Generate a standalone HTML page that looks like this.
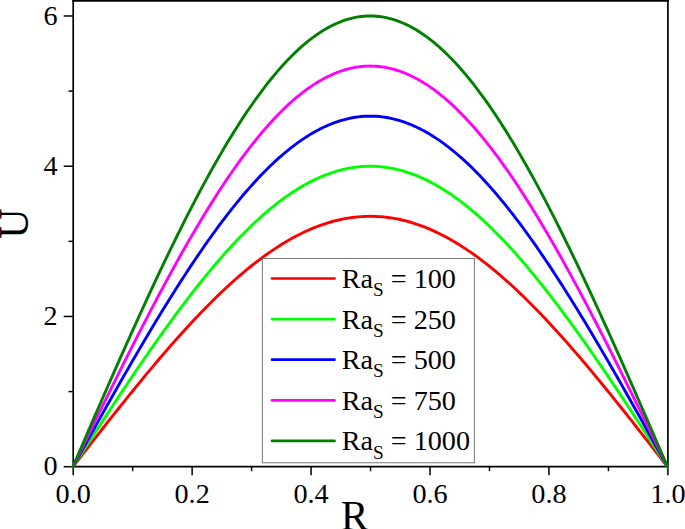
<!DOCTYPE html>
<html><head><meta charset="utf-8"><style>
html,body{margin:0;padding:0;background:#fff;width:685px;height:529px;overflow:hidden}
svg{display:block}
text{font-family:"Liberation Serif",serif}
</style></head><body>
<svg width="685" height="529" viewBox="0 0 685 529" font-family="Liberation Serif, serif" font-size="28.2" fill="#000">
<rect width="685" height="529" fill="#fff"/>
<line x1="73.2" y1="0" x2="73.2" y2="466.7" stroke="#000" stroke-width="1.7"/><line x1="667.9" y1="0" x2="667.9" y2="466.7" stroke="#000" stroke-width="1.7"/><line x1="73.2" y1="466.7" x2="667.9" y2="466.7" stroke="#000" stroke-width="1.7"/><line x1="72.35000000000001" y1="0.85" x2="668.75" y2="0.85" stroke="#000" stroke-width="1.7"/><line x1="73.20" y1="466.7" x2="73.20" y2="475.2" stroke="#000" stroke-width="1.5"/><line x1="132.67" y1="466.7" x2="132.67" y2="471.2" stroke="#000" stroke-width="1.5"/><line x1="192.14" y1="466.7" x2="192.14" y2="475.2" stroke="#000" stroke-width="1.5"/><line x1="251.61" y1="466.7" x2="251.61" y2="471.2" stroke="#000" stroke-width="1.5"/><line x1="311.08" y1="466.7" x2="311.08" y2="475.2" stroke="#000" stroke-width="1.5"/><line x1="370.55" y1="466.7" x2="370.55" y2="471.2" stroke="#000" stroke-width="1.5"/><line x1="430.02" y1="466.7" x2="430.02" y2="475.2" stroke="#000" stroke-width="1.5"/><line x1="489.49" y1="466.7" x2="489.49" y2="471.2" stroke="#000" stroke-width="1.5"/><line x1="548.96" y1="466.7" x2="548.96" y2="475.2" stroke="#000" stroke-width="1.5"/><line x1="608.43" y1="466.7" x2="608.43" y2="471.2" stroke="#000" stroke-width="1.5"/><line x1="667.90" y1="466.7" x2="667.90" y2="475.2" stroke="#000" stroke-width="1.5"/><line x1="73.2" y1="466.70" x2="63.7" y2="466.70" stroke="#000" stroke-width="1.5"/><line x1="73.2" y1="391.58" x2="68.5" y2="391.58" stroke="#000" stroke-width="1.5"/><line x1="73.2" y1="316.46" x2="63.7" y2="316.46" stroke="#000" stroke-width="1.5"/><line x1="73.2" y1="241.34" x2="68.5" y2="241.34" stroke="#000" stroke-width="1.5"/><line x1="73.2" y1="166.22" x2="63.7" y2="166.22" stroke="#000" stroke-width="1.5"/><line x1="73.2" y1="91.10" x2="68.5" y2="91.10" stroke="#000" stroke-width="1.5"/><line x1="73.2" y1="15.98" x2="63.7" y2="15.98" stroke="#000" stroke-width="1.5"/>
<polyline points="73.00,466.70 75.97,462.85 78.94,459.01 81.92,455.17 84.89,451.34 87.86,447.52 90.83,443.70 93.80,439.89 96.78,436.09 99.75,432.30 102.72,428.51 105.69,424.74 108.66,420.97 111.64,417.21 114.61,413.47 117.58,409.74 120.55,406.01 123.52,402.30 126.50,398.61 129.47,394.93 132.44,391.26 135.41,387.61 138.38,383.97 141.36,380.35 144.33,376.75 147.30,373.17 150.27,369.60 153.24,366.06 156.22,362.54 159.19,359.04 162.16,355.56 165.13,352.11 168.10,348.68 171.08,345.27 174.05,341.89 177.02,338.54 179.99,335.21 182.96,331.92 185.94,328.65 188.91,325.41 191.88,322.21 194.85,319.04 197.82,315.90 200.80,312.79 203.77,309.72 206.74,306.68 209.71,303.68 212.68,300.72 215.66,297.80 218.63,294.91 221.60,292.07 224.57,289.27 227.54,286.50 230.52,283.78 233.49,281.11 236.46,278.48 239.43,275.89 242.40,273.35 245.38,270.85 248.35,268.40 251.32,266.00 254.29,263.65 257.26,261.35 260.24,259.10 263.21,256.90 266.18,254.75 269.15,252.65 272.12,250.61 275.10,248.62 278.07,246.69 281.04,244.80 284.01,242.98 286.98,241.21 289.96,239.50 292.93,237.84 295.90,236.25 298.87,234.71 301.84,233.23 304.82,231.81 307.79,230.45 310.76,229.15 313.73,227.91 316.70,226.73 319.68,225.61 322.65,224.55 325.62,223.56 328.59,222.63 331.56,221.76 334.54,220.96 337.51,220.22 340.48,219.54 343.45,218.92 346.42,218.37 349.40,217.89 352.37,217.47 355.34,217.11 358.31,216.82 361.28,216.59 364.26,216.43 367.23,216.33 370.20,216.30 373.17,216.33 376.14,216.43 379.12,216.59 382.09,216.82 385.06,217.11 388.03,217.47 391.00,217.89 393.98,218.37 396.95,218.92 399.92,219.54 402.89,220.22 405.86,220.96 408.84,221.76 411.81,222.63 414.78,223.56 417.75,224.55 420.72,225.61 423.70,226.73 426.67,227.91 429.64,229.15 432.61,230.45 435.58,231.81 438.56,233.23 441.53,234.71 444.50,236.25 447.47,237.84 450.44,239.50 453.42,241.21 456.39,242.98 459.36,244.80 462.33,246.69 465.30,248.62 468.28,250.61 471.25,252.65 474.22,254.75 477.19,256.90 480.16,259.10 483.14,261.35 486.11,263.65 489.08,266.00 492.05,268.40 495.02,270.85 498.00,273.35 500.97,275.89 503.94,278.48 506.91,281.11 509.88,283.78 512.86,286.50 515.83,289.27 518.80,292.07 521.77,294.91 524.74,297.80 527.72,300.72 530.69,303.68 533.66,306.68 536.63,309.72 539.60,312.79 542.58,315.90 545.55,319.04 548.52,322.21 551.49,325.41 554.46,328.65 557.44,331.92 560.41,335.21 563.38,338.54 566.35,341.89 569.32,345.27 572.30,348.68 575.27,352.11 578.24,355.56 581.21,359.04 584.18,362.54 587.16,366.06 590.13,369.60 593.10,373.17 596.07,376.75 599.04,380.35 602.02,383.97 604.99,387.61 607.96,391.26 610.93,394.93 613.90,398.61 616.88,402.30 619.85,406.01 622.82,409.74 625.79,413.47 628.76,417.21 631.74,420.97 634.71,424.74 637.68,428.51 640.65,432.30 643.62,436.09 646.60,439.89 649.57,443.70 652.54,447.52 655.51,451.34 658.48,455.17 661.46,459.01 664.43,462.85 667.40,466.70" fill="none" stroke="#ff0000" stroke-width="2.9" stroke-linejoin="round" stroke-linecap="round"/><polyline points="73.00,466.70 75.97,462.08 78.94,457.47 81.92,452.87 84.89,448.27 87.86,443.68 90.83,439.10 93.80,434.53 96.78,429.97 99.75,425.42 102.72,420.88 105.69,416.34 108.66,411.83 111.64,407.32 114.61,402.82 117.58,398.34 120.55,393.88 123.52,389.42 126.50,384.99 129.47,380.57 132.44,376.17 135.41,371.79 138.38,367.42 141.36,363.08 144.33,358.76 147.30,354.46 150.27,350.19 153.24,345.93 156.22,341.71 159.19,337.51 162.16,333.33 165.13,329.19 168.10,325.07 171.08,320.98 174.05,316.93 177.02,312.91 179.99,308.92 182.96,304.96 185.94,301.04 188.91,297.16 191.88,293.31 194.85,289.50 197.82,285.74 200.80,282.01 203.77,278.32 206.74,274.68 209.71,271.08 212.68,267.53 215.66,264.02 218.63,260.56 221.60,257.14 224.57,253.78 227.54,250.47 230.52,247.20 233.49,243.99 236.46,240.83 239.43,237.73 242.40,234.68 245.38,231.68 248.35,228.74 251.32,225.86 254.29,223.04 257.26,220.28 260.24,217.58 263.21,214.94 266.18,212.36 269.15,209.84 272.12,207.39 275.10,205.00 278.07,202.68 281.04,200.43 284.01,198.24 286.98,196.11 289.96,194.06 292.93,192.07 295.90,190.16 298.87,188.31 301.84,186.53 304.82,184.83 307.79,183.20 310.76,181.64 313.73,180.15 316.70,178.73 319.68,177.39 322.65,176.13 325.62,174.93 328.59,173.82 331.56,172.78 334.54,171.81 337.51,170.92 340.48,170.11 343.45,169.37 346.42,168.71 349.40,168.13 352.37,167.62 355.34,167.19 358.31,166.84 361.28,166.57 364.26,166.38 367.23,166.26 370.20,166.22 373.17,166.26 376.14,166.38 379.12,166.57 382.09,166.84 385.06,167.19 388.03,167.62 391.00,168.13 393.98,168.71 396.95,169.37 399.92,170.11 402.89,170.92 405.86,171.81 408.84,172.78 411.81,173.82 414.78,174.93 417.75,176.13 420.72,177.39 423.70,178.73 426.67,180.15 429.64,181.64 432.61,183.20 435.58,184.83 438.56,186.53 441.53,188.31 444.50,190.16 447.47,192.07 450.44,194.06 453.42,196.11 456.39,198.24 459.36,200.43 462.33,202.68 465.30,205.00 468.28,207.39 471.25,209.84 474.22,212.36 477.19,214.94 480.16,217.58 483.14,220.28 486.11,223.04 489.08,225.86 492.05,228.74 495.02,231.68 498.00,234.68 500.97,237.73 503.94,240.83 506.91,243.99 509.88,247.20 512.86,250.47 515.83,253.78 518.80,257.14 521.77,260.56 524.74,264.02 527.72,267.53 530.69,271.08 533.66,274.68 536.63,278.32 539.60,282.01 542.58,285.74 545.55,289.50 548.52,293.31 551.49,297.16 554.46,301.04 557.44,304.96 560.41,308.92 563.38,312.91 566.35,316.93 569.32,320.98 572.30,325.07 575.27,329.19 578.24,333.33 581.21,337.51 584.18,341.71 587.16,345.93 590.13,350.19 593.10,354.46 596.07,358.76 599.04,363.08 602.02,367.42 604.99,371.79 607.96,376.17 610.93,380.57 613.90,384.99 616.88,389.42 619.85,393.88 622.82,398.34 625.79,402.82 628.76,407.32 631.74,411.83 634.71,416.34 637.68,420.88 640.65,425.42 643.62,429.97 646.60,434.53 649.57,439.10 652.54,443.68 655.51,448.27 658.48,452.87 661.46,457.47 664.43,462.08 667.40,466.70" fill="none" stroke="#00ff00" stroke-width="2.9" stroke-linejoin="round" stroke-linecap="round"/><polyline points="73.00,466.70 75.97,461.31 78.94,455.93 81.92,450.56 84.89,445.20 87.86,439.85 90.83,434.50 93.80,429.17 96.78,423.85 99.75,418.54 102.72,413.24 105.69,407.95 108.66,402.68 111.64,397.42 114.61,392.18 117.58,386.95 120.55,381.74 123.52,376.55 126.50,371.37 129.47,366.22 132.44,361.08 135.41,355.97 138.38,350.88 141.36,345.81 144.33,340.77 147.30,335.76 150.27,330.77 153.24,325.81 156.22,320.87 159.19,315.97 162.16,311.10 165.13,306.27 168.10,301.47 171.08,296.70 174.05,291.97 177.02,287.27 179.99,282.62 182.96,278.00 185.94,273.43 188.91,268.90 191.88,264.41 194.85,259.97 197.82,255.58 200.80,251.23 203.77,246.93 206.74,242.68 209.71,238.48 212.68,234.33 215.66,230.24 218.63,226.20 221.60,222.22 224.57,218.29 227.54,214.43 230.52,210.62 233.49,206.87 236.46,203.19 239.43,199.56 242.40,196.01 245.38,192.51 248.35,189.09 251.32,185.73 254.29,182.43 257.26,179.21 260.24,176.06 263.21,172.98 266.18,169.97 269.15,167.04 272.12,164.17 275.10,161.39 278.07,158.68 281.04,156.05 284.01,153.49 286.98,151.02 289.96,148.62 292.93,146.30 295.90,144.07 298.87,141.91 301.84,139.84 304.82,137.85 307.79,135.95 310.76,134.12 313.73,132.39 316.70,130.74 319.68,129.17 322.65,127.70 325.62,126.31 328.59,125.00 331.56,123.79 334.54,122.66 337.51,121.62 340.48,120.67 343.45,119.81 346.42,119.04 349.40,118.36 352.37,117.78 355.34,117.28 358.31,116.87 361.28,116.55 364.26,116.32 367.23,116.19 370.20,116.14 373.17,116.19 376.14,116.32 379.12,116.55 382.09,116.87 385.06,117.28 388.03,117.78 391.00,118.36 393.98,119.04 396.95,119.81 399.92,120.67 402.89,121.62 405.86,122.66 408.84,123.79 411.81,125.00 414.78,126.31 417.75,127.70 420.72,129.17 423.70,130.74 426.67,132.39 429.64,134.12 432.61,135.95 435.58,137.85 438.56,139.84 441.53,141.91 444.50,144.07 447.47,146.30 450.44,148.62 453.42,151.02 456.39,153.49 459.36,156.05 462.33,158.68 465.30,161.39 468.28,164.17 471.25,167.04 474.22,169.97 477.19,172.98 480.16,176.06 483.14,179.21 486.11,182.43 489.08,185.73 492.05,189.09 495.02,192.51 498.00,196.01 500.97,199.56 503.94,203.19 506.91,206.87 509.88,210.62 512.86,214.43 515.83,218.29 518.80,222.22 521.77,226.20 524.74,230.24 527.72,234.33 530.69,238.48 533.66,242.68 536.63,246.93 539.60,251.23 542.58,255.58 545.55,259.97 548.52,264.41 551.49,268.90 554.46,273.43 557.44,278.00 560.41,282.62 563.38,287.27 566.35,291.97 569.32,296.70 572.30,301.47 575.27,306.27 578.24,311.10 581.21,315.97 584.18,320.87 587.16,325.81 590.13,330.77 593.10,335.76 596.07,340.77 599.04,345.81 602.02,350.88 604.99,355.97 607.96,361.08 610.93,366.22 613.90,371.37 616.88,376.55 619.85,381.74 622.82,386.95 625.79,392.18 628.76,397.42 631.74,402.68 634.71,407.95 637.68,413.24 640.65,418.54 643.62,423.85 646.60,429.17 649.57,434.50 652.54,439.85 655.51,445.20 658.48,450.56 661.46,455.93 664.43,461.31 667.40,466.70" fill="none" stroke="#0000ff" stroke-width="2.9" stroke-linejoin="round" stroke-linecap="round"/><polyline points="73.00,466.70 75.97,460.54 78.94,454.40 81.92,448.26 84.89,442.13 87.86,436.01 90.83,429.91 93.80,423.81 96.78,417.73 99.75,411.66 102.72,405.60 105.69,399.56 108.66,393.53 111.64,387.52 114.61,381.53 117.58,375.56 120.55,369.60 123.52,363.67 126.50,357.75 129.47,351.86 132.44,345.99 135.41,340.15 138.38,334.33 141.36,328.54 144.33,322.78 147.30,317.05 150.27,311.35 153.24,305.68 156.22,300.04 159.19,294.44 162.16,288.88 165.13,283.35 168.10,277.86 171.08,272.41 174.05,267.01 177.02,261.64 179.99,256.32 182.96,251.05 185.94,245.82 188.91,240.64 191.88,235.52 194.85,230.44 197.82,225.41 200.80,220.45 203.77,215.53 206.74,210.67 209.71,205.88 212.68,201.14 215.66,196.46 218.63,191.84 221.60,187.29 224.57,182.81 227.54,178.39 230.52,174.04 233.49,169.75 236.46,165.54 239.43,161.40 242.40,157.33 245.38,153.34 248.35,149.43 251.32,145.59 254.29,141.82 257.26,138.14 260.24,134.54 263.21,131.02 266.18,127.58 269.15,124.23 272.12,120.96 275.10,117.77 278.07,114.68 281.04,111.67 284.01,108.75 286.98,105.92 289.96,103.18 292.93,100.53 295.90,97.97 298.87,95.51 301.84,93.14 304.82,90.87 307.79,88.69 310.76,86.61 313.73,84.63 316.70,82.74 319.68,80.96 322.65,79.27 325.62,77.68 328.59,76.19 331.56,74.80 334.54,73.51 337.51,72.33 340.48,71.24 343.45,70.26 346.42,69.38 349.40,68.60 352.37,67.93 355.34,67.36 358.31,66.89 361.28,66.53 364.26,66.27 367.23,66.11 370.20,66.06 373.17,66.11 376.14,66.27 379.12,66.53 382.09,66.89 385.06,67.36 388.03,67.93 391.00,68.60 393.98,69.38 396.95,70.26 399.92,71.24 402.89,72.33 405.86,73.51 408.84,74.80 411.81,76.19 414.78,77.68 417.75,79.27 420.72,80.96 423.70,82.74 426.67,84.63 429.64,86.61 432.61,88.69 435.58,90.87 438.56,93.14 441.53,95.51 444.50,97.97 447.47,100.53 450.44,103.18 453.42,105.92 456.39,108.75 459.36,111.67 462.33,114.68 465.30,117.77 468.28,120.96 471.25,124.23 474.22,127.58 477.19,131.02 480.16,134.54 483.14,138.14 486.11,141.82 489.08,145.59 492.05,149.43 495.02,153.34 498.00,157.33 500.97,161.40 503.94,165.54 506.91,169.75 509.88,174.04 512.86,178.39 515.83,182.81 518.80,187.29 521.77,191.84 524.74,196.46 527.72,201.14 530.69,205.88 533.66,210.67 536.63,215.53 539.60,220.45 542.58,225.41 545.55,230.44 548.52,235.52 551.49,240.64 554.46,245.82 557.44,251.05 560.41,256.32 563.38,261.64 566.35,267.01 569.32,272.41 572.30,277.86 575.27,283.35 578.24,288.88 581.21,294.44 584.18,300.04 587.16,305.68 590.13,311.35 593.10,317.05 596.07,322.78 599.04,328.54 602.02,334.33 604.99,340.15 607.96,345.99 610.93,351.86 613.90,357.75 616.88,363.67 619.85,369.60 622.82,375.56 625.79,381.53 628.76,387.52 631.74,393.53 634.71,399.56 637.68,405.60 640.65,411.66 643.62,417.73 646.60,423.81 649.57,429.91 652.54,436.01 655.51,442.13 658.48,448.26 661.46,454.40 664.43,460.54 667.40,466.70" fill="none" stroke="#ff00ff" stroke-width="2.9" stroke-linejoin="round" stroke-linecap="round"/><polyline points="73.00,466.70 75.97,459.77 78.94,452.86 81.92,445.95 84.89,439.06 87.86,432.18 90.83,425.31 93.80,418.45 96.78,411.61 99.75,404.78 102.72,397.96 105.69,391.17 108.66,384.39 111.64,377.63 114.61,370.88 117.58,364.16 120.55,357.46 123.52,350.79 126.50,344.13 129.47,337.51 132.44,330.90 135.41,324.33 138.38,317.79 141.36,311.27 144.33,304.79 147.30,298.34 150.27,291.93 153.24,285.55 156.22,279.21 159.19,272.91 162.16,266.65 165.13,260.43 168.10,254.26 171.08,248.13 174.05,242.04 177.02,236.01 179.99,230.02 182.96,224.09 185.94,218.21 188.91,212.39 191.88,206.62 194.85,200.91 197.82,195.25 200.80,189.66 203.77,184.13 206.74,178.67 209.71,173.27 212.68,167.94 215.66,162.68 218.63,157.49 221.60,152.37 224.57,147.32 227.54,142.35 230.52,137.45 233.49,132.63 236.46,127.90 239.43,123.24 242.40,118.66 245.38,114.17 248.35,109.77 251.32,105.45 254.29,101.21 257.26,97.07 260.24,93.02 263.21,89.06 266.18,85.19 269.15,81.42 272.12,77.74 275.10,74.16 278.07,70.67 281.04,67.29 284.01,64.00 286.98,60.82 289.96,57.74 292.93,54.76 295.90,51.88 298.87,49.11 301.84,46.45 304.82,43.89 307.79,41.44 310.76,39.10 313.73,36.87 316.70,34.75 319.68,32.74 322.65,30.84 325.62,29.05 328.59,27.38 331.56,25.81 334.54,24.36 337.51,23.03 340.48,21.81 343.45,20.70 346.42,19.71 349.40,18.84 352.37,18.08 355.34,17.44 358.31,16.91 361.28,16.51 364.26,16.21 367.23,16.04 370.20,15.98 373.17,16.04 376.14,16.21 379.12,16.51 382.09,16.91 385.06,17.44 388.03,18.08 391.00,18.84 393.98,19.71 396.95,20.70 399.92,21.81 402.89,23.03 405.86,24.36 408.84,25.81 411.81,27.38 414.78,29.05 417.75,30.84 420.72,32.74 423.70,34.75 426.67,36.87 429.64,39.10 432.61,41.44 435.58,43.89 438.56,46.45 441.53,49.11 444.50,51.88 447.47,54.76 450.44,57.74 453.42,60.82 456.39,64.00 459.36,67.29 462.33,70.67 465.30,74.16 468.28,77.74 471.25,81.42 474.22,85.19 477.19,89.06 480.16,93.02 483.14,97.07 486.11,101.21 489.08,105.45 492.05,109.77 495.02,114.17 498.00,118.66 500.97,123.24 503.94,127.90 506.91,132.63 509.88,137.45 512.86,142.35 515.83,147.32 518.80,152.37 521.77,157.49 524.74,162.68 527.72,167.94 530.69,173.27 533.66,178.67 536.63,184.13 539.60,189.66 542.58,195.25 545.55,200.91 548.52,206.62 551.49,212.39 554.46,218.21 557.44,224.09 560.41,230.02 563.38,236.01 566.35,242.04 569.32,248.13 572.30,254.26 575.27,260.43 578.24,266.65 581.21,272.91 584.18,279.21 587.16,285.55 590.13,291.93 593.10,298.34 596.07,304.79 599.04,311.27 602.02,317.79 604.99,324.33 607.96,330.90 610.93,337.51 613.90,344.13 616.88,350.79 619.85,357.46 622.82,364.16 625.79,370.88 628.76,377.63 631.74,384.39 634.71,391.17 637.68,397.96 640.65,404.78 643.62,411.61 646.60,418.45 649.57,425.31 652.54,432.18 655.51,439.06 658.48,445.95 661.46,452.86 664.43,459.77 667.40,466.70" fill="none" stroke="#008000" stroke-width="2.9" stroke-linejoin="round" stroke-linecap="round"/>
<rect x="262.4" y="258.5" width="212.0" height="204.25" fill="#fff" stroke="#7a7a7a" stroke-width="1"/><line x1="272" y1="278.50" x2="334.5" y2="278.50" stroke="#ff0000" stroke-width="2.7" stroke-linecap="round"/><text x="341.7" y="288.00">Ra<tspan font-size="19.18" dy="8.1">S</tspan><tspan dy="-8.1"> = 100</tspan></text><line x1="272" y1="319.10" x2="334.5" y2="319.10" stroke="#00ff00" stroke-width="2.7" stroke-linecap="round"/><text x="341.7" y="328.60">Ra<tspan font-size="19.18" dy="8.1">S</tspan><tspan dy="-8.1"> = 250</tspan></text><line x1="272" y1="359.70" x2="334.5" y2="359.70" stroke="#0000ff" stroke-width="2.7" stroke-linecap="round"/><text x="341.7" y="369.20">Ra<tspan font-size="19.18" dy="8.1">S</tspan><tspan dy="-8.1"> = 500</tspan></text><line x1="272" y1="400.30" x2="334.5" y2="400.30" stroke="#ff00ff" stroke-width="2.7" stroke-linecap="round"/><text x="341.7" y="409.80">Ra<tspan font-size="19.18" dy="8.1">S</tspan><tspan dy="-8.1"> = 750</tspan></text><line x1="272" y1="440.90" x2="334.5" y2="440.90" stroke="#008000" stroke-width="2.7" stroke-linecap="round"/><text x="341.7" y="450.40">Ra<tspan font-size="19.18" dy="8.1">S</tspan><tspan dy="-8.1"> = 1000</tspan></text>
<text x="73.20" y="503.2" text-anchor="middle">0.0</text><text x="192.14" y="503.2" text-anchor="middle">0.2</text><text x="311.08" y="503.2" text-anchor="middle">0.4</text><text x="430.02" y="503.2" text-anchor="middle">0.6</text><text x="548.96" y="503.2" text-anchor="middle">0.8</text><text x="667.90" y="503.2" text-anchor="middle">1.0</text><text x="57.6" y="475.30" text-anchor="end">0</text><text x="57.6" y="325.06" text-anchor="end">2</text><text x="57.6" y="174.82" text-anchor="end">4</text><text x="57.6" y="24.58" text-anchor="end">6</text>
<text x="354.5" y="530.3" font-size="41.5" text-anchor="middle">R</text><text transform="translate(27.6,223.5) rotate(-90)" font-size="42" text-anchor="middle">U</text>
</svg>
</body></html>
